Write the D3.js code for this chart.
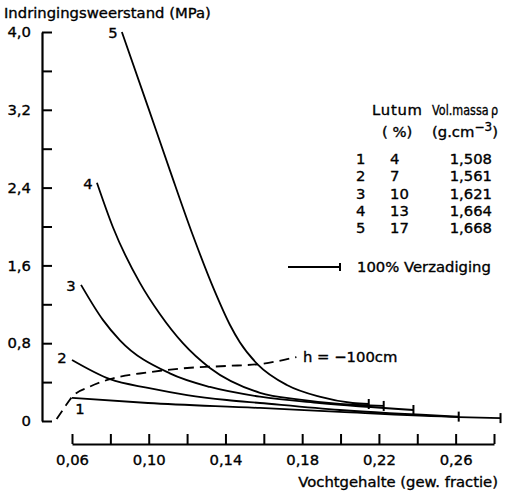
<!DOCTYPE html>
<html>
<head>
<meta charset="utf-8">
<script src="https://cdn.jsdelivr.net/npm/d3@7"></script>
<style>
  body { margin: 0; background: #fff; }
  svg  { display: block; }
  text { font-family: "DejaVu Sans", sans-serif; font-size: 14.8px; fill: #000;
         stroke: #000; stroke-width: 0.35px; }
</style>
</head>
<body>
<svg id="chart" width="518" height="493"></svg>
<script>
"use strict"

// curves: [vochtgehalte, indringingsweerstand]
var curve1 = [[0.060, 0.237], [0.0996, 0.185], [0.158, 0.134], [0.1996, 0.093],
              [0.2616, 0.040], [0.2834, 0.030]];
var curve2 = [[0.060, 0.627], [0.0798, 0.430], [0.0996, 0.340], [0.120, 0.267],
              [0.1407, 0.216], [0.158, 0.185], [0.1996, 0.113], [0.2616, 0.045]];
var curve3 = [[0.0647, 1.40], [0.0761, 1.04], [0.085, 0.83], [0.111, 0.49],
              [0.1319, 0.35], [0.158, 0.25], [0.189, 0.185], [0.238, 0.113]];
var curve4 = [[0.073, 2.45], [0.0814, 1.99], [0.0954, 1.42], [0.1058, 1.10],
              [0.1178, 0.80], [0.1319, 0.545], [0.158, 0.29], [0.1788, 0.22],
              [0.1996, 0.175], [0.2225, 0.155]];
var curve5 = [[0.086, 4.00], [0.0996, 3.23], [0.111, 2.58], [0.123, 1.91],
              [0.1345, 1.33], [0.1423, 0.99], [0.1475, 0.81], [0.1569, 0.58],
              [0.172, 0.37], [0.189, 0.25], [0.2063, 0.185], [0.2147, 0.175]];
var hLine  = [[0.052, 0.02], [0.0558, 0.13], [0.060, 0.247], [0.069, 0.35],
              [0.0798, 0.43], [0.0996, 0.50], [0.120, 0.545], [0.1407, 0.566],
              [0.158, 0.586], [0.177, 0.658]];

var curveNames = ['1', '2', '3', '4', '5'];
var curves     = [curve1, curve2, curve3, curve4, curve5];
var lutum      = ['4', '7', '10', '13', '17'];
var volMassa   = ['1,508', '1,561', '1,621', '1,664', '1,668'];

var yTicks  = [0, 0.4, 0.8, 1.2, 1.6, 2.0, 2.4, 2.8, 3.2, 3.6, 4.0];
var yLabels = ['0', '', '0,8', '', '1,6', '', '2,4', '', '3,2', '', '4,0'];
var xTicks  = [0.06, 0.08, 0.10, 0.12, 0.14, 0.16, 0.18, 0.20, 0.22, 0.24, 0.26, 0.28];
var xLabels = ['0,06', '', '0,10', '', '0,14', '', '0,18', '', '0,22', '', '0,26', ''];

var svg = d3.select('#chart');
var x   = d3.scaleLinear().domain([0.06, 0.28]).range([72, 494]);
var y   = d3.scaleLinear().domain([0, 4]).range([421, 32]);

function styleAxis(g) {
    g.attr('font-family', null).attr('font-size', null);
    g.select('.domain').attr('stroke', '#000').attr('stroke-width', 2.2);
    g.selectAll('.tick line').attr('stroke', '#000').attr('stroke-width', 2);
    g.selectAll('.tick text').attr('fill', '#000');
}

// y axis, ticks pointing inwards
svg.append('g')
    .attr('transform', 'translate(42,0)')
    .call(d3.axisLeft(y)
        .tickValues(yTicks)
        .tickFormat((d, i) => yLabels[i])
        .tickSizeInner(-10)
        .tickSizeOuter(0)
        .tickPadding(11))
    .call(styleAxis);

// x axis, detached below the plot
svg.append('g')
    .attr('transform', 'translate(0,444)')
    .call(d3.axisBottom(x)
        .tickValues(xTicks)
        .tickFormat((d, i) => xLabels[i])
        .tickSizeInner(-10)
        .tickSizeOuter(0)
        .tickPadding(10))
    .call(styleAxis);

svg.append('text')
    .attr('x', 4)
    .attr('y', 18)
    .text('Indringingsweerstand (MPa)');

svg.append('text')
    .attr('x', 498)
    .attr('y', 487)
    .attr('text-anchor', 'end')
    .text('Vochtgehalte (gew. fractie)');

var line = d3.line()
    .x(d => x(d[0]))
    .y(d => y(d[1]))
    .curve(d3.curveMonotoneX);

svg.selectAll('path.curve').data(curves)
    .enter()
    .append('path')
    .attr('class', 'curve')
    .attr('d', line)
    .attr('fill', 'none')
    .attr('stroke', '#000')
    .attr('stroke-width', 1.8);

// end marks = 100% verzadiging
svg.selectAll('line.sat').data(curves)
    .enter()
    .append('line')
    .attr('class', 'sat')
    .attr('x1', d => x(d[d.length - 1][0]))
    .attr('x2', d => x(d[d.length - 1][0]))
    .attr('y1', d => y(d[d.length - 1][1]) - 5)
    .attr('y2', d => y(d[d.length - 1][1]) + 5)
    .attr('stroke', '#000')
    .attr('stroke-width', 2);

var labelOffset = [[8, 16], [-10, 3], [-10, 6], [-9, 6], [-9, 6]];
svg.selectAll('text.cname').data(curves)
    .enter()
    .append('text')
    .attr('class', 'cname')
    .attr('x', (d, i) => x(d[0][0]) + labelOffset[i][0])
    .attr('y', (d, i) => y(d[0][1]) + labelOffset[i][1])
    .attr('text-anchor', 'middle')
    .text((d, i) => curveNames[i]);

svg.append('path')
    .attr('d', line(hLine))
    .attr('fill', 'none')
    .attr('stroke', '#000')
    .attr('stroke-width', 1.8)
    .attr('stroke-dasharray', '10,6');

svg.append('text')
    .attr('x', 303)
    .attr('y', 362)
    .text('h = \u2212100cm');

// legend table
var legend = svg.append('g');
legend.append('text').attr('x', 372).attr('y', 115)
    .attr('textLength', 50).text('Lutum');
legend.append('text').attr('x', 432).attr('y', 115)
    .attr('font-size', '13px')
    .attr('textLength', 66).attr('lengthAdjust', 'spacingAndGlyphs')
    .text('Vol.massa\u2009\u03c1');
legend.append('text').attr('x', 382).attr('y', 137).text('( %)');
var unit = legend.append('text').attr('x', 432).attr('y', 137)
    .attr('font-size', '13.5px');
unit.append('tspan').text('(g.cm');
unit.append('tspan').attr('dy', -6).attr('font-size', '12px').text('\u22123');
unit.append('tspan').attr('dy', 6).text(')');

var rowY = d3.scaleLinear().domain([0, 4]).range([164, 233]);
legend.selectAll('text.rnum').data(curveNames)
    .enter().append('text')
    .attr('x', 356).attr('y', (d, i) => rowY(i)).text(d => d);
legend.selectAll('text.rlut').data(lutum)
    .enter().append('text')
    .attr('x', 390).attr('y', (d, i) => rowY(i)).text(d => d);
legend.selectAll('text.rvol').data(volMassa)
    .enter().append('text')
    .attr('x', 492).attr('y', (d, i) => rowY(i))
    .attr('text-anchor', 'end').text(d => d);

legend.append('line')
    .attr('x1', 288).attr('x2', 340).attr('y1', 267).attr('y2', 267)
    .attr('stroke', '#000').attr('stroke-width', 2);
legend.append('line')
    .attr('x1', 340).attr('x2', 340).attr('y1', 263).attr('y2', 271)
    .attr('stroke', '#000').attr('stroke-width', 2);
legend.append('text').attr('x', 357).attr('y', 272).text('100% Verzadiging');
</script>
</body>
</html>
